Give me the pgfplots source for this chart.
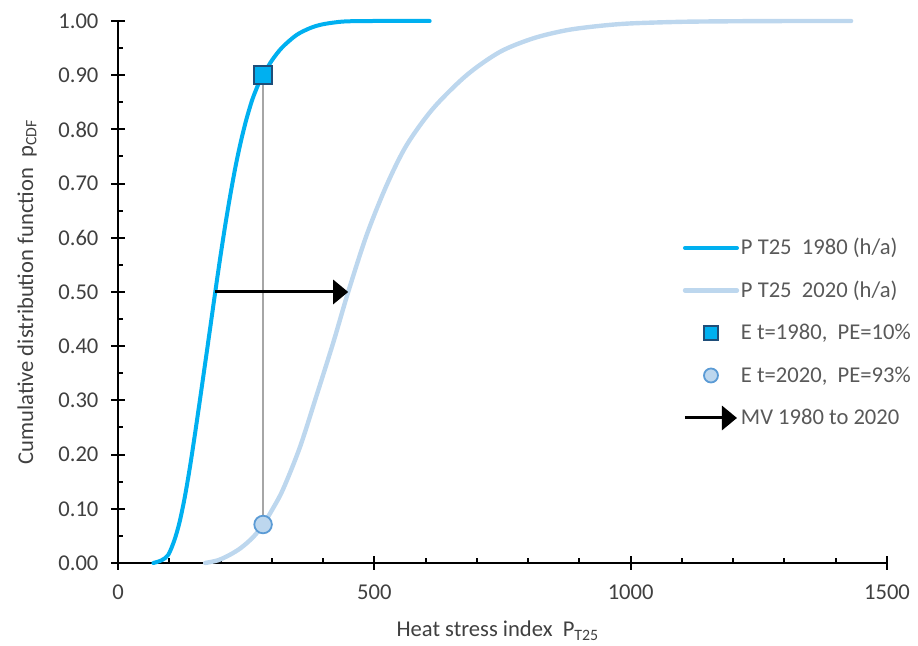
\documentclass[border=0pt]{standalone}
\usepackage{pgfplots}
\pgfplotsset{compat=1.18}
\usepackage{fontspec}
\setmainfont{Carlito}
\usetikzlibrary{arrows.meta}
\definecolor{cA}{HTML}{00B0F0}
\definecolor{cB}{HTML}{BDD7EE}
\definecolor{sqedge}{HTML}{1F4E79}
\definecolor{circedge}{HTML}{5B9BD5}
\definecolor{vline}{HTML}{A6A6A6}
\definecolor{txt}{HTML}{404040}
\definecolor{legtxt}{HTML}{595959}
\newcommand{\fs}{\fontsize{11.3}{13.5}\selectfont}
\pgfplotsset{
  lineleg/.style={legend image code/.code={\path[draw=none, fill=none, line width=0pt] (0pt,-1pt) rectangle (26pt,1pt); \draw[##1, overlay] (0pt,0pt) -- (26pt,0pt);}},
  markleg/.style={legend image code/.code={\path[draw=none, fill=none, line width=0pt] (0pt,-1pt) rectangle (26pt,1pt); \draw[mark repeat=2, mark phase=2, ##1, mark size=3.5pt, overlay] plot coordinates {(0pt,0pt) (13pt,0pt) (26pt,0pt)};}},
}
\begin{document}
\begin{tikzpicture}
\useasboundingbox (-59pt,-41.5pt) rectangle (400pt,281.5pt);
\begin{axis}[
  scale only axis, width=384.5pt, height=271pt,
  at={(0,0)}, anchor=south west,
  xmin=0, xmax=1500, ymin=0, ymax=1,
  axis lines=left, axis line style={-, line width=1pt, black},
  clip=false,
  xtick={0,500,1000,1500}, minor x tick num=4,
  ytick={0,0.1,0.2,0.3,0.4,0.5,0.6,0.7,0.8,0.9,1.0}, minor y tick num=1,
  tick align=inside, major tick length=6.6pt, minor tick length=2.6pt,
  tick style={line width=1pt, black},
  every major x tick/.append style={yshift=-3.3pt},
  every major y tick/.append style={xshift=-3.3pt},
  tick label style={font=\fs, text=txt},
  /pgf/number format/assume math mode=true,
  xticklabel style={/pgf/number format/1000 sep={}, yshift=-7.2pt},
  yticklabel style={/pgf/number format/.cd, fixed, fixed zerofill, precision=2, /tikz/.cd, xshift=-6.25pt},
  every axis y label/.style={at={(axis description cs:-0.1183,0.5)}, rotate=90, anchor=center, font=\fs, text=txt},
  every axis x label/.style={at={(axis description cs:0.494,-0.1365)}, anchor=base, font=\fs, text=txt},
  xlabel={Heat stress index~ P\textsubscript{T25}},
  ylabel={Cumulative distribution function~ p\textsubscript{CDF}},
  legend cell align=left,
  legend style={draw=none, fill=none, at={(axis description cs:0.7373,0.6015)}, anchor=north west,
    inner sep=0pt, outer sep=0pt, row sep=10.25pt, column sep=2pt,
    nodes={inner sep=0pt, text height=9pt, text depth=2pt, font=\fs, text=legtxt}},
]
\addplot[cA, line width=2pt, smooth, line cap=round, line join=round, lineleg]
  coordinates {(69,0) (85,0.005) (98,0.015) (110,0.042) (120,0.075) (130,0.12) (140,0.175) (150,0.237) (160,0.302) (170,0.368) (180,0.435) (190,0.502) (200,0.567) (210,0.628) (220,0.684) (230,0.735) (240,0.779) (250,0.817) (262,0.855) (275,0.886) (283,0.90) (300,0.927) (320,0.951) (348,0.974) (375,0.987) (400,0.994) (440,0.999) (500,1.0) (608,1.0)};
\addlegendentry{P T25~ 1980 (h/a)}
\addplot[cB, line width=2.2pt, smooth, line cap=round, line join=round, lineleg]
  coordinates {(170,0) (195,0.005) (218,0.015) (240,0.028) (264,0.048) (283,0.071) (300,0.097) (322,0.136) (355,0.214) (387,0.308) (420,0.407) (449,0.50) (485,0.605) (524,0.697) (563,0.771) (615,0.839) (680,0.90) (745,0.943) (810,0.968) (875,0.983) (940,0.991) (1000,0.9955) (1100,0.9985) (1200,0.9995) (1300,0.9999) (1430,1.0)};
\addlegendentry{P T25~ 2020 (h/a)}
\addplot[vline, line width=0.8pt, forget plot] coordinates {(283,0.071) (283,0.90)};
\addplot[only marks, mark=square*, mark size=4.4pt, mark options={fill=cA, draw=sqedge, line width=0.9pt}, markleg]
  coordinates {(283,0.90)};
\addlegendentry{E t=1980,~ PE=10\%}
\addplot[only marks, mark=*, mark size=4.4pt, mark options={fill=cB, draw=circedge, line width=0.9pt}, markleg]
  coordinates {(283,0.071)};
\addlegendentry{E t=2020,~ PE=93\%}
\addplot[black, line width=1.5pt, -{Triangle[length=7.5pt, width=12pt]}, lineleg]
  coordinates {(189,0.5) (449,0.5)};
\addlegendentry{MV 1980 to 2020}
\end{axis}
\end{tikzpicture}
\end{document}
